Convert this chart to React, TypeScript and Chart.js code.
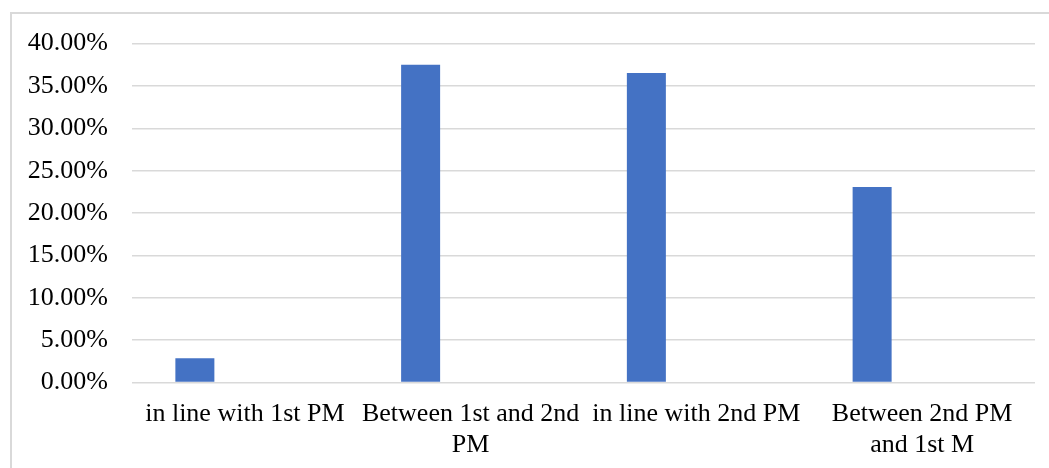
import React, { useEffect, useRef } from "react";
import { Chart, registerables } from "chart.js";

Chart.register(...registerables);

// Category labels (multi-line entries wrap under the tick)
const categories: (string | string[])[] = [
  "in line with 1st PM",
  ["Between 1st and 2nd", "PM"],
  "in line with 2nd PM",
  ["Between 2nd PM", "and 1st M"],
];

// Share of responses per position
const shares: number[] = [0.0288, 0.375, 0.3654, 0.2308];

// Empty companion series that keeps the bars in the left slot of each group
const emptySeries: (number | null)[] = [null, null, null, null];

// Y axis range and step
const yMin = 0;
const yMax = 0.4;
const yStep = 0.05;

const FONT = "'Liberation Serif', 'Times New Roman', serif";

export default function App() {
  const canvasRef = useRef<HTMLCanvasElement | null>(null);

  useEffect(() => {
    if (!canvasRef.current) return;
    const chart = new Chart(canvasRef.current, {
      type: "bar",
      data: {
        labels: categories,
        datasets: [
          {
            label: "Series 1",
            data: shares,
            backgroundColor: "#4472c4",
            borderWidth: 0,
            barPercentage: 0.39,
            categoryPercentage: 0.886,
          },
          {
            label: "Series 2",
            data: emptySeries,
            backgroundColor: "#ed7d31",
            borderWidth: 0,
            barPercentage: 0.39,
            categoryPercentage: 0.886,
          },
        ],
      },
      options: {
        animation: false,
        responsive: false,
        maintainAspectRatio: false,
        layout: { padding: { top: 14, right: 14, bottom: 8, left: 0 } },
        plugins: {
          legend: { display: false },
          tooltip: { enabled: false },
        },
        scales: {
          x: {
            grid: { display: false, drawTicks: false },
            border: { display: false },
            ticks: {
              color: "#000000",
              font: { family: FONT, size: 26, lineHeight: 1.2 },
              padding: 16,
              maxRotation: 0,
              minRotation: 0,
              autoSkip: false,
            },
          },
          y: {
            min: yMin,
            max: yMax,
            grid: { color: "#d9d9d9", lineWidth: 1.5, drawTicks: false },
            border: { display: false },
            ticks: {
              stepSize: yStep,
              color: "#000000",
              font: { family: FONT, size: 26 },
              padding: 24,
              callback: (v: any) => (Number(v) * 100).toFixed(2) + "%",
            },
            afterFit: (scale: any) => {
              scale.width = 120;
            },
          },
        },
      },
    });
    return () => chart.destroy();
  }, []);

  return (
    <div
      style={{
        position: "fixed",
        left: 0,
        top: 0,
        width: 1049,
        height: 468,
        overflow: "hidden",
        background: "#ffffff",
      }}
    >
      <div
        style={{
          position: "absolute",
          left: 10,
          top: 12,
          width: 1100,
          height: 500,
          borderTop: "2px solid #d9d9d9",
          borderLeft: "2px solid #d9d9d9",
        }}
      />
      <canvas
        ref={canvasRef}
        width={1037}
        height={481}
        style={{ position: "absolute", left: 12, top: 4, display: "block" }}
      />
    </div>
  );
}
